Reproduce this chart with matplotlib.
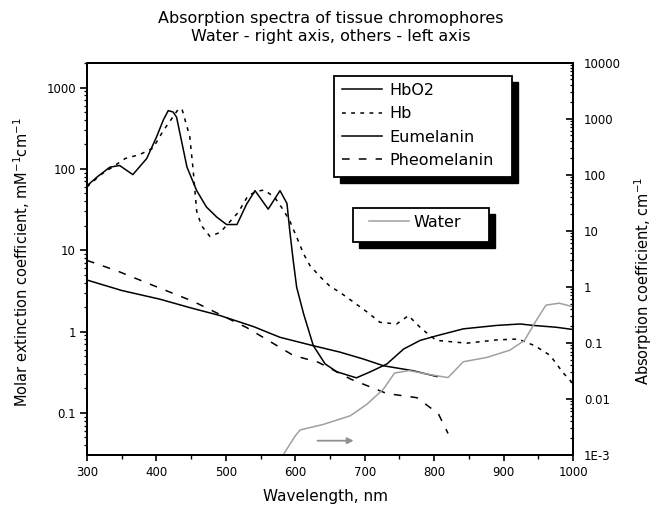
import numpy as np
import matplotlib
matplotlib.use("Agg")
import matplotlib.pyplot as plt
from matplotlib.patches import Rectangle
from matplotlib.ticker import FixedLocator, FixedFormatter, LogLocator, MultipleLocator, NullFormatter

plt.rcParams.update({'font.family': 'DejaVu Sans', 'font.size': 9})

# ── data (left axis: mM^-1 cm^-1, right axis: cm^-1) ──
hbo2_wl = [300, 315, 333, 347, 366, 386, 400, 410, 417, 424, 429, 438, 444, 458, 472, 487,
           501, 516, 530, 542, 561, 578, 588, 592, 597, 602, 612, 626, 643, 660, 688, 708,
           732, 756, 780, 804, 842, 890, 924, 943, 976, 1000]
hbo2_val = [62, 80, 105, 110, 85, 134, 245, 400, 520, 500, 432, 185, 105, 54, 34, 25.5,
            20.7, 20.7, 37, 54, 32, 54, 37.6, 17.5, 7.5, 3.5, 1.65, 0.67, 0.40, 0.32, 0.27, 0.32,
            0.40, 0.61, 0.78, 0.89, 1.08, 1.19, 1.24, 1.19, 1.13, 1.06]

hb_wl = [300, 320, 340, 355, 376, 395, 410, 425, 432, 437, 448, 453, 458, 465, 477, 492,
         518, 532, 545, 555, 570, 582, 592, 602, 612, 621, 636, 650, 664, 681, 703, 722,
         746, 763, 782, 803, 847, 890, 921, 945, 967, 986, 1000]
hb_val = [60, 85, 110, 134, 150, 180, 296, 450, 550, 537, 250, 95, 30, 20, 14.8, 16.6,
          29.3, 47, 53, 55, 45, 32, 23, 14.5, 9.0, 6.5, 4.7, 3.6, 3.05, 2.4, 1.75, 1.3,
          1.24, 1.57, 1.08, 0.78, 0.72, 0.79, 0.81, 0.67, 0.51, 0.31, 0.23]

eu_wl = [300, 350, 405, 450, 492, 540, 578, 626, 664, 698, 727, 770, 804]
eu_val = [4.3, 3.2, 2.5, 1.95, 1.57, 1.15, 0.85, 0.67, 0.56, 0.46, 0.38, 0.33, 0.28]

pheo_wl = [300, 345, 395, 453, 530, 597, 633, 680, 732, 775, 806, 820]
pheo_val = [7.5, 5.5, 3.7, 2.35, 1.12, 0.51, 0.42, 0.26, 0.173, 0.154, 0.098, 0.056]

water_wl = [580, 600, 607, 640, 660, 679, 703, 727, 743, 764, 795, 820, 842, 876, 909,
            930, 947, 961, 980, 1000]
water_val = [0.0009, 0.0022, 0.0028, 0.0035, 0.0042, 0.0050, 0.0080, 0.015, 0.029, 0.032,
             0.027, 0.024, 0.046, 0.055, 0.074, 0.11, 0.25, 0.47, 0.51, 0.44]

left_ticks = [0.1, 1, 10, 100, 1000]
left_labels = ['0.1', '1', '10', '100', '1000']
right_ticks = [1e-3, 1e-2, 1e-1, 1, 10, 100, 1000, 10000]
right_labels = ['1E-3', '0.01', '0.1', '1', '10', '100', '1000', '10000']

W, H = 654, 508
fig = plt.figure(figsize=(W / 100, H / 100), dpi=100)
ax = fig.add_axes([87 / W, 1 - 455 / H, (573 - 87) / W, (455 - 62.5) / H])
ax2 = ax.twinx()

lw = 1.1
l1, = ax.plot(hbo2_wl, hbo2_val, color='black', lw=lw, label='HbO2')
l2, = ax.plot(hb_wl, hb_val, color='black', lw=lw, ls=(0, (2.5, 3.5)), label='Hb')
l3, = ax.plot(eu_wl, eu_val, color='black', lw=lw, label='Eumelanin')
l4, = ax.plot(pheo_wl, pheo_val, color='black', lw=lw, ls=(0, (5, 6)), label='Pheomelanin')
l5, = ax2.plot(water_wl, water_val, color='#a0a0a0', lw=lw, label='Water')

ax2.annotate('', xy=(684, 1.8e-3), xytext=(632, 1.8e-3),
             arrowprops=dict(arrowstyle='-|>', color='#909090', lw=1.3,
                             mutation_scale=9, shrinkA=0, shrinkB=0))

ax.set_xlim(300, 1000)
ax.set_yscale('log')
ax.set_ylim(0.0304, 2030)
ax2.set_yscale('log')
ax2.set_ylim(1e-3, 1e4)

ax.xaxis.set_major_locator(MultipleLocator(100))
ax.xaxis.set_minor_locator(MultipleLocator(50))
ax.yaxis.set_major_locator(FixedLocator(left_ticks))
ax.yaxis.set_major_formatter(FixedFormatter(left_labels))
ax.yaxis.set_minor_locator(LogLocator(base=10, subs=np.arange(2, 10)))
ax.yaxis.set_minor_formatter(NullFormatter())
ax2.yaxis.set_major_locator(FixedLocator(right_ticks))
ax2.yaxis.set_major_formatter(FixedFormatter(right_labels))
ax2.yaxis.set_minor_locator(LogLocator(base=10, subs=np.arange(2, 10)))
ax2.yaxis.set_minor_formatter(NullFormatter())

ax.tick_params(axis='x', which='major', direction='out', length=4, width=1.2, labelsize=8.5, pad=4)
ax.tick_params(axis='x', which='minor', direction='out', length=3, width=1.0)
ax.tick_params(axis='y', which='major', direction='out', length=5, width=1.2, labelsize=8.5, pad=3)
ax.tick_params(axis='y', which='minor', direction='out', length=2.5, width=0.9)
ax2.tick_params(axis='y', which='major', direction='in', length=5, width=1.2, labelsize=8.5, pad=8)
ax2.tick_params(axis='y', which='minor', direction='in', length=2.5, width=0.9)
for a in (ax, ax2):
    for s in a.spines.values():
        s.set_linewidth(1.4)

ax.set_xlabel('Wavelength, nm', fontsize=11, va='center')
ax.xaxis.set_label_coords(0.49, -0.107)
ax.set_ylabel('Molar extinction coefficient, mM$^{-1}$cm$^{-1}$', fontsize=10.5, va='center')
ax.yaxis.set_label_coords(-0.134, 0.49)
ax2.set_ylabel('Absorption coefficient, cm$^{-1}$', fontsize=10.5, rotation=90, va='center')
ax2.yaxis.set_label_coords(1.144, 0.443)

fig.text(0.505, 1 - 27 / H, 'Absorption spectra of tissue chromophores\nWater - right axis, others - left axis',
         ha='center', va='center', fontsize=11.5, linespacing=1.25)


def box(x0, y0, x1, y1, off=6):
    fig.add_artist(Rectangle(((x0 + off) / W, 1 - (y1 + off) / H), (x1 - x0) / W, (y1 - y0) / H,
                             transform=fig.transFigure, facecolor='black', edgecolor='black', zorder=5))
    fig.add_artist(Rectangle((x0 / W, 1 - y1 / H), (x1 - x0) / W, (y1 - y0) / H,
                             transform=fig.transFigure, facecolor='white', edgecolor='black',
                             lw=1.3, zorder=6))


box(334, 76, 511.7, 176.7)
box(352.7, 208.3, 489.3, 241.7)

leg1 = fig.legend(handles=[l1, l2, l3, l4], loc='upper left', bbox_to_anchor=(342 / W, 1 - 83 / H),
                  frameon=False, fontsize=11.5, handlelength=2.5, handletextpad=0.45,
                  labelspacing=0.52, borderpad=0, borderaxespad=0)
leg1.set_zorder(7)
leg2 = fig.legend(handles=[l5], loc='upper left', bbox_to_anchor=(369 / W, 1 - 215 / H),
                  frameon=False, fontsize=11.5, handlelength=2.5, handletextpad=0.3,
                  borderpad=0, borderaxespad=0)
leg2.set_zorder(7)

fig.savefig('out.png', dpi=100)
